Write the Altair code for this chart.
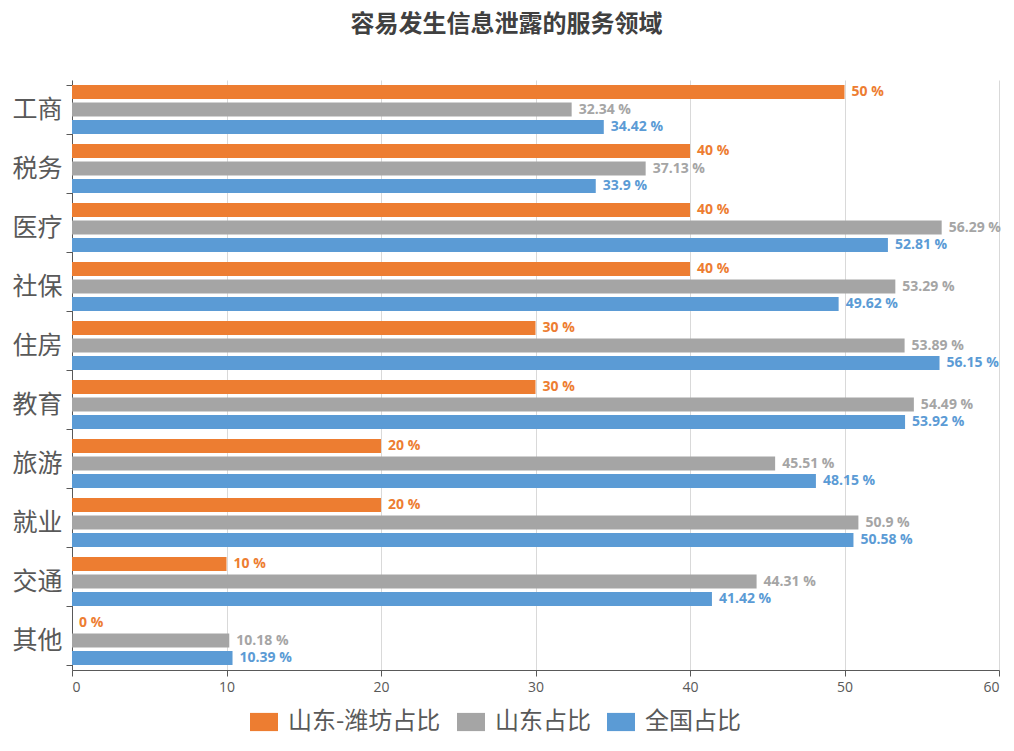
import altair as alt
import pandas as pd

categories = ["工商", "税务", "医疗", "社保", "住房", "教育", "旅游", "就业", "交通", "其他"]
series = ["山东-潍坊占比", "山东占比", "全国占比"]
weifang = [50, 40, 40, 40, 30, 30, 20, 20, 10, 0]
shandong = [32.34, 37.13, 56.29, 53.29, 53.89, 54.49, 45.51, 50.9, 44.31, 10.18]
national = [34.42, 33.9, 52.81, 49.62, 56.15, 53.92, 48.15, 50.58, 41.42, 10.39]
colors = ["#ED7D31", "#A5A5A5", "#5B9BD5"]
x_ticks = [0, 10, 20, 30, 40, 50, 60]

rows = []
for s, vals in zip(series, [weifang, shandong, national]):
    for c, v in zip(categories, vals):
        rows.append({"category": c, "series": s, "value": v, "label": f"{v:g} %"})
df = pd.DataFrame(rows)

FONT = "Noto Sans CJK SC"
NUMFONT = "Open Sans"

y_enc = alt.Y("category:N", sort=categories, title=None,
              scale=alt.Scale(paddingInner=0.17, paddingOuter=0.085),
              axis=alt.Axis(labelFontSize=25, labelColor="#595959", labelFont=FONT,
                            labelPadding=4, tickBand="extent", tickSize=6,
                            tickColor="#595959", domainColor="#595959", grid=False))
yoff = alt.YOffset("series:N", sort=series, scale=alt.Scale(paddingInner=0.2))
color_enc = alt.Color("series:N", sort=series,
                      scale=alt.Scale(domain=series, range=colors),
                      legend=alt.Legend(title=None, orient="none", direction="horizontal",
                                        legendX=178, legendY=628,
                                        symbolType="M-1,-0.65H1V0.65H-1Z",
                                        symbolSize=784, symbolStrokeWidth=0,
                                        labelFontSize=24, labelColor="#595959",
                                        labelFont=FONT, columnPadding=16,
                                        labelOffset=10))

base = alt.Chart(df).encode(y=y_enc, yOffset=yoff)

bars = base.mark_bar(size=14).encode(
    x=alt.X("value:Q", title=None,
            scale=alt.Scale(domain=[0, 60], nice=False),
            axis=alt.Axis(values=x_ticks, labelFontSize=14, labelColor="#595959",
                          labelFont=NUMFONT, gridColor="#D9D9D9", tickColor="#595959",
                          domainColor="#595959", tickSize=6, labelPadding=4)),
    color=color_enc,
)

labels = base.mark_text(align="left", baseline="middle", dx=7, fontSize=14,
                        fontWeight="bold", font=NUMFONT).encode(
    x=alt.X("value:Q"),
    text="label:N",
    color=alt.Color("series:N", sort=series,
                    scale=alt.Scale(domain=series, range=colors), legend=None),
)

chart = alt.layer(bars, labels).properties(
    width=927, height=590,
    title=alt.TitleParams("容易发生信息泄露的服务领域", fontSize=24, fontWeight="bold",
                          color="#404040", font=FONT, anchor="middle", frame="bounds",
                          offset=31),
    autosize=alt.AutoSizeParams(type="none"),
    padding={"left": 64, "top": 72, "right": 7, "bottom": 73},
).configure_view(stroke=None)

chart.save("out.html", embed_options={"renderer": "svg", "actions": False})
